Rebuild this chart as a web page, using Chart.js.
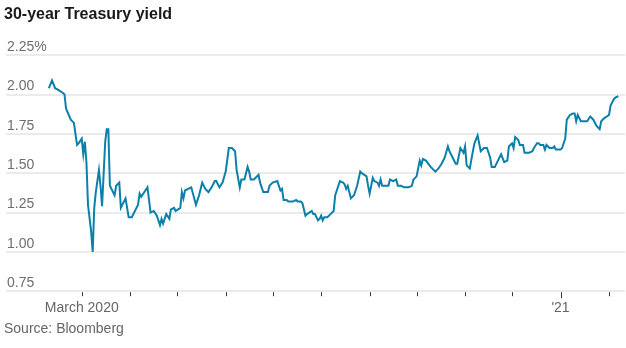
<!DOCTYPE html>
<html lang="en">
<head>
    <meta charset="utf-8">
    <script src="https://cdn.jsdelivr.net/npm/chart.js"></script>
    <style>
        body {
            margin: 0;
            background: #fff;
        }
        #wrap {
            position: relative;
            width: 626px;
            height: 348px;
        }
        #chart {
            display: block;
        }
        #source {
            position: absolute;
            left: 4px;
            top: 320px;
            font: 14px/16px 'Liberation Sans', Arial, sans-serif;
            color: #666;
        }
    </style>
</head>
<body>
    <div id="wrap">
        <canvas id="chart" width="626" height="348"></canvas>
        <div id="source">Source: Bloomberg</div>
    </div>

    <script>
        // days counted from 1 March 2020
        const dayOffsets = [
            -21, -19, -17, -15, -12, -11, -10, -7, -5, -3,
            -2, 0, 1, 2, 3, 4, 6, 7, 8, 9,
            11, 12, 13, 15, 16, 17, 18, 21, 22, 24,
            25, 28, 30, 32, 36, 37, 38, 42, 44, 46,
            48, 50, 51, 52, 54, 56, 57, 59, 60, 63,
            64, 65, 66, 68, 70, 73, 75, 77, 79, 81,
            83, 85, 86, 88, 90, 92, 94, 96, 98, 99,
            101, 102, 104, 106, 107, 108, 110, 113, 114, 116,
            119, 120, 122, 125, 127, 128, 129, 131, 132, 134,
            135, 137, 138, 140, 141, 143, 144, 147, 148, 149,
            151, 152, 153, 154, 155, 157, 159, 161, 162, 165,
            167, 168, 169, 170, 172, 174, 176, 178, 179, 182,
            183, 184, 186, 187, 189, 190, 191, 192, 194, 196,
            197, 199, 201, 202, 204, 206, 207, 209, 211, 212,
            214, 216, 217, 218, 220, 223, 226, 228, 230, 232,
            234, 235, 237, 239, 240, 242, 244, 245, 246, 248,
            250, 251, 253, 255, 257, 259, 261, 262, 264, 266,
            268, 270, 272, 273, 275, 276, 277, 279, 280, 282,
            283, 285, 286, 288, 289, 291, 292, 293, 295, 296,
            297, 298, 299, 301, 302, 303, 304, 306, 307, 309,
            310, 312, 314, 315, 316, 317, 319, 321, 323, 325,
            327, 329, 331, 332, 334, 337, 338, 340, 341, 343
        ];

        // 30-year yield, %
        const yields = [
            2.04, 2.09, 2.04, 2.03, 2.01, 2.00, 1.91, 1.84, 1.82, 1.68,
            1.69, 1.72, 1.62, 1.70, 1.57, 1.30, 1.13, 1.00, 1.28, 1.38,
            1.52, 1.42, 1.29, 1.70, 1.78, 1.78, 1.42, 1.36, 1.42, 1.44,
            1.28, 1.34, 1.22, 1.22, 1.30, 1.37, 1.35, 1.41, 1.25, 1.26,
            1.23, 1.17, 1.21, 1.18, 1.24, 1.21, 1.27, 1.28, 1.26, 1.28,
            1.38, 1.34, 1.39, 1.40, 1.41, 1.30, 1.36, 1.44, 1.40, 1.38,
            1.41, 1.45, 1.45, 1.41, 1.44, 1.51, 1.66, 1.66, 1.64, 1.52,
            1.41, 1.46, 1.46, 1.54, 1.51, 1.46, 1.46, 1.49, 1.44, 1.38,
            1.38, 1.42, 1.44, 1.45, 1.39, 1.40, 1.33, 1.33, 1.32, 1.32,
            1.32, 1.33, 1.32, 1.32, 1.31, 1.23, 1.24, 1.26, 1.24, 1.24,
            1.20, 1.21, 1.23, 1.20, 1.22, 1.22, 1.24, 1.26, 1.36, 1.45,
            1.44, 1.43, 1.40, 1.42, 1.34, 1.36, 1.42, 1.51, 1.50, 1.48,
            1.42, 1.37, 1.47, 1.45, 1.44, 1.42, 1.46, 1.42, 1.42, 1.42,
            1.46, 1.45, 1.46, 1.42, 1.42, 1.41, 1.41, 1.41, 1.42, 1.46,
            1.48, 1.58, 1.55, 1.59, 1.58, 1.54, 1.51, 1.53, 1.56, 1.60,
            1.67, 1.64, 1.60, 1.56, 1.56, 1.66, 1.63, 1.67, 1.55, 1.53,
            1.64, 1.69, 1.74, 1.64, 1.66, 1.66, 1.60, 1.54, 1.54, 1.58,
            1.62, 1.57, 1.58, 1.67, 1.69, 1.66, 1.73, 1.71, 1.68, 1.68,
            1.63, 1.63, 1.63, 1.64, 1.66, 1.69, 1.69, 1.68, 1.68, 1.65,
            1.68, 1.67, 1.66, 1.66, 1.67, 1.65, 1.65, 1.65, 1.66, 1.72,
            1.84, 1.87, 1.88, 1.88, 1.83, 1.87, 1.83, 1.83, 1.83, 1.86,
            1.84, 1.80, 1.78, 1.83, 1.85, 1.87, 1.93, 1.97, 1.98, 1.99
        ];

        // first day of each month, Mar 2020 .. Feb 2021
        const monthTicks = [0, 31, 61, 92, 122, 153, 184, 214, 245, 275, 306, 337];
        const monthLabels = ['March 2020', '', '', '', '', '', '', '', '', '', "'21", ''];
        const yTicks = [0.75, 1.00, 1.25, 1.50, 1.75, 2.00, 2.25];

        const points = dayOffsets.map((d, i) => ({ x: d, y: yields[i] }));

        const FONT = "'Liberation Sans', Arial, sans-serif";

        // small tick marks under the axis, longer one at the new year
        const tickMarks = {
            id: 'tickMarks',
            afterDraw(chart) {
                const ctx = chart.ctx;
                const xs = chart.scales.x;
                const bottom = chart.chartArea.bottom;
                ctx.save();
                ctx.strokeStyle = '#333';
                ctx.lineWidth = 1;
                monthTicks.forEach((v, i) => {
                    const px = Math.round(xs.getPixelForValue(v)) + 0.5;
                    const len = monthLabels[i] === "'21" ? 7 : 5;
                    ctx.beginPath();
                    ctx.moveTo(px, bottom + 1);
                    ctx.lineTo(px, bottom + len);
                    ctx.stroke();
                });
                ctx.restore();
            }
        };

        const ctx = document.getElementById('chart').getContext('2d');
        const chart = new Chart(ctx, {
            type: 'line',
            data: {
                datasets: [{
                    label: '30-year Treasury yield',
                    data: points,
                    borderColor: '#0b80a9',
                    borderWidth: 2,
                    pointRadius: 0,
                    tension: 0,
                    fill: false
                }]
            },
            options: {
                responsive: false,
                animation: false,
                layout: {
                    padding: { left: 4, right: 1, top: 0, bottom: 22 }
                },
                plugins: {
                    legend: { display: false },
                    tooltip: { enabled: false },
                    title: {
                        display: true,
                        text: '30-year Treasury yield',
                        align: 'start',
                        color: '#1a1a1a',
                        font: { family: FONT, size: 16, weight: 'bold' },
                        padding: { top: 5, bottom: 31 }
                    }
                },
                scales: {
                    x: {
                        type: 'linear',
                        min: -48.4,
                        max: 347.2,
                        border: { display: false },
                        grid: { display: false, drawTicks: false },
                        afterBuildTicks(scale) {
                            scale.ticks = monthTicks.map(v => ({ value: v }));
                        },
                        ticks: {
                            autoSkip: false,
                            maxRotation: 0,
                            padding: 9,
                            color: '#666',
                            font: { family: FONT, size: 14 },
                            callback(value) {
                                const i = monthTicks.indexOf(value);
                                return i >= 0 ? monthLabels[i] : '';
                            }
                        }
                    },
                    y: {
                        min: 0.75,
                        max: 2.25,
                        border: { display: false },
                        grid: { color: '#ebebeb', lineWidth: 2, drawTicks: false },
                        afterBuildTicks(scale) {
                            scale.ticks = yTicks.map(v => ({ value: v }));
                        },
                        ticks: {
                            mirror: true,
                            padding: 1,
                            labelOffset: -8,
                            color: '#6e6e6e',
                            font: { family: FONT, size: 14 },
                            callback(value) {
                                return value === 2.25 ? value.toFixed(2) + '%' : value.toFixed(2);
                            }
                        }
                    }
                }
            },
            plugins: [tickMarks]
        });
    </script>
</body>
</html>
